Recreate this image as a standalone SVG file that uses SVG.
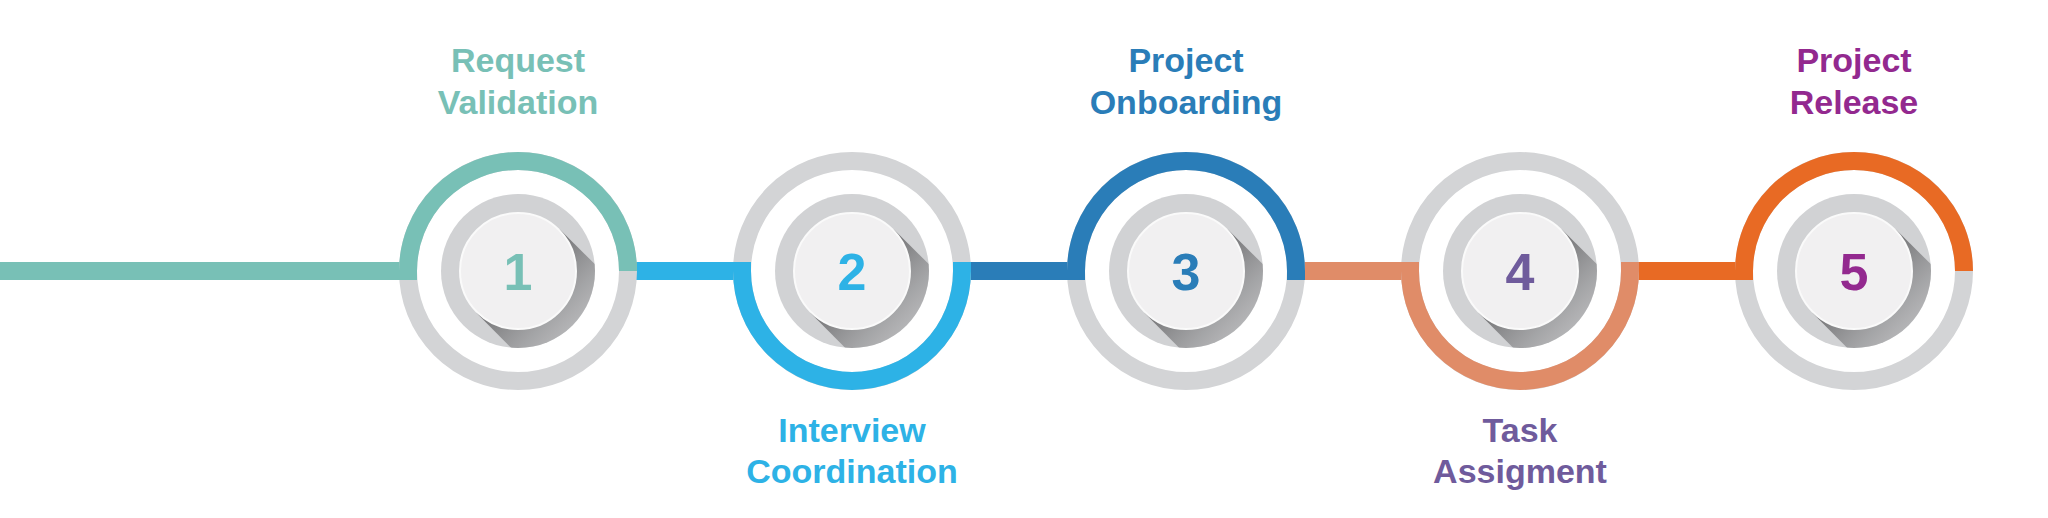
<svg xmlns="http://www.w3.org/2000/svg" width="2048" height="518" viewBox="0 0 2048 518">
<defs>
<style>
.ring{fill:none;stroke:#d3d4d6;stroke-width:18}
.arc{fill:none;stroke-width:18}
.disc{fill:#d1d2d4}
.btn{fill:#f1f0f1;stroke:#fafafa;stroke-width:2}
.num{font-family:"Liberation Sans",Arial,sans-serif;font-weight:bold;font-size:52px;text-anchor:middle}
.lbl{font-family:"Liberation Sans",Arial,sans-serif;font-weight:bold;font-size:34px;text-anchor:middle}
.seg{stroke-width:18}
</style>
<linearGradient id="sh" x1="0" y1="0" x2="1" y2="1">
<stop offset="0.3" stop-color="#6e6e70" stop-opacity="0.9"/>
<stop offset="1" stop-color="#d1d2d4" stop-opacity="0"/>
</linearGradient>
<clipPath id="cd"><circle cx="0" cy="0" r="77"/></clipPath>
<g id="core">
<circle class="disc" r="77"/>
<g clip-path="url(#cd)"><polygon points="-41.7,41.7 41.7,-41.7 120,36 36,120" fill="url(#sh)"/></g>
<circle class="btn" r="58"/>
</g>
</defs>
<g id="connectors">
<line class="seg" x1="0" y1="271" x2="408" y2="271" stroke="#78c0b6"/>
<line class="seg" x1="628" y1="271" x2="742" y2="271" stroke="#2db2e6"/>
<line class="seg" x1="962" y1="271" x2="1076" y2="271" stroke="#2a7db8"/>
<line class="seg" x1="1296" y1="271" x2="1410" y2="271" stroke="#e08c68"/>
<line class="seg" x1="1630" y1="271" x2="1744" y2="271" stroke="#e86a24"/>
</g>
<g id="node1" transform="translate(518,271)">
<circle class="ring" r="110"/>
<path class="arc" d="M-110,9 V0 A110,110 0 0 1 110,0 V-9" stroke="#78c0b6"/>
<use href="#core"/>
<text class="num" y="19" fill="#78c0b6">1</text>
<text class="lbl" y="-199" fill="#78c0b6">Request</text>
<text class="lbl" y="-157" fill="#78c0b6">Validation</text>
</g>
<g id="node2" transform="translate(852,271)">
<circle class="ring" r="110"/>
<path class="arc" d="M-110,-9 V0 A110,110 0 0 0 110,0 V-9" stroke="#2db2e6"/>
<use href="#core"/>
<text class="num" y="19" fill="#2db2e6">2</text>
<text class="lbl" y="171" fill="#2db2e6">Interview</text>
<text class="lbl" y="212" fill="#2db2e6">Coordination</text>
</g>
<g id="node3" transform="translate(1186,271)">
<circle class="ring" r="110"/>
<path class="arc" d="M-110,9 V0 A110,110 0 0 1 110,0 V9" stroke="#2a7db8"/>
<use href="#core"/>
<text class="num" y="19" fill="#2a7db8">3</text>
<text class="lbl" y="-199" fill="#2a7db8">Project</text>
<text class="lbl" y="-157" fill="#2a7db8">Onboarding</text>
</g>
<g id="node4" transform="translate(1520,271)">
<circle class="ring" r="110"/>
<path class="arc" d="M-110,-9 V0 A110,110 0 0 0 110,0 V-9" stroke="#e08c68"/>
<use href="#core"/>
<text class="num" y="19" fill="#6f5b9c">4</text>
<text class="lbl" y="171" fill="#6f5b9c">Task</text>
<text class="lbl" y="212" fill="#6f5b9c">Assigment</text>
</g>
<g id="node5" transform="translate(1854,271)">
<circle class="ring" r="110"/>
<path class="arc" d="M-110,9 V0 A110,110 0 0 1 110,0 V0" stroke="#e86a24"/>
<use href="#core"/>
<text class="num" y="19" fill="#93298f">5</text>
<text class="lbl" y="-199" fill="#93298f">Project</text>
<text class="lbl" y="-157" fill="#93298f">Release</text>
</g>
</svg>
